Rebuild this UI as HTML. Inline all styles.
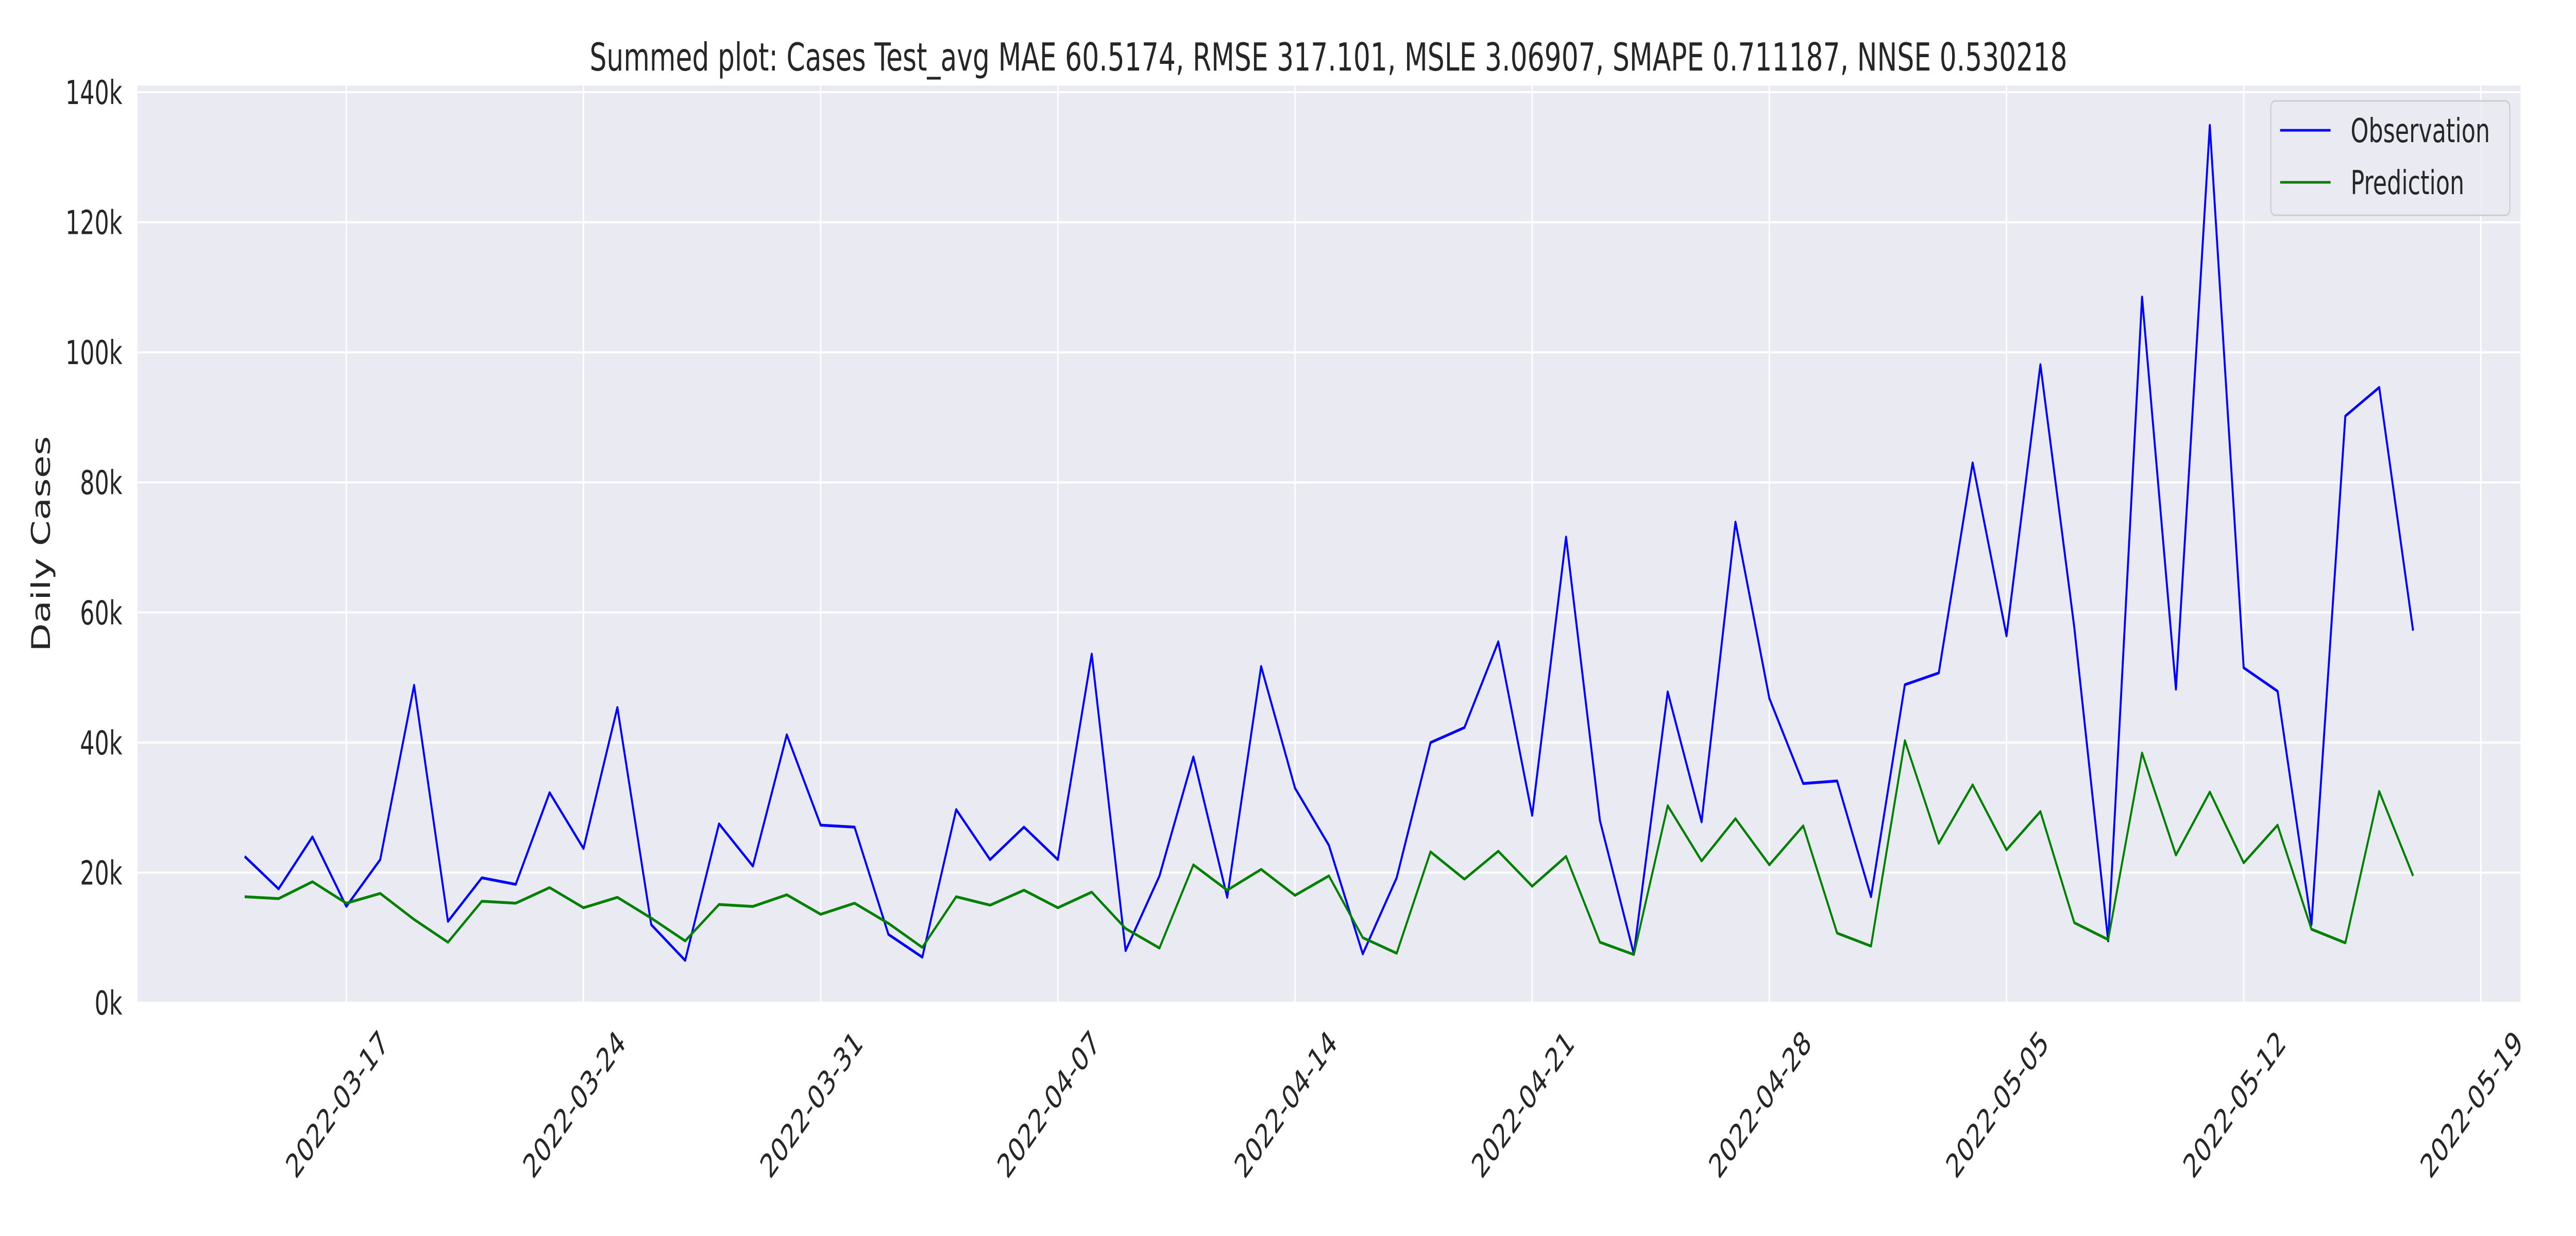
<!DOCTYPE html>
<html><head><meta charset="utf-8"><style>
html,body{margin:0;padding:0;background:#fff;width:100%;height:100%;overflow:hidden;}
svg{display:block;width:100vw;height:100vh;font-family:"DejaVu Sans","Liberation Sans",sans-serif;}
</style></head><body>
<svg id="chart" viewBox="0 0 7200 2400" preserveAspectRatio="none" xmlns="http://www.w3.org/2000/svg">
<rect x="0" y="0" width="7200" height="2400" fill="#fff"/>
<text x="3713" y="137" font-size="75" fill="#262626" text-anchor="middle" textLength="4130" lengthAdjust="spacingAndGlyphs">Summed plot: Cases Test_avg MAE 60.5174, RMSE 317.101, MSLE 3.06907, SMAPE 0.711187, NNSE 0.530218</text>
<rect x="384" y="166" width="6661" height="1781" fill="#eaeaf2"/>
<g id="grid"></g>
<g id="yticks"></g>
<g id="xticks"></g>
<text transform="translate(140,1056) rotate(-90)" font-size="72" fill="#262626" text-anchor="middle">Daily Cases</text>
<g id="series"></g>
<g>
<rect x="6347" y="196" width="668" height="222" rx="12" fill="#eaeaf2" fill-opacity="0.8" stroke="#cccccc" stroke-width="3"/>
<line x1="6373" y1="253" x2="6514" y2="253" stroke="#0000ff" stroke-width="5"/>
<text x="6570" y="276" font-size="64" fill="#262626">Observation</text>
<line x1="6373" y1="354" x2="6514" y2="354" stroke="#008000" stroke-width="5"/>
<text x="6570" y="377" font-size="64" fill="#262626">Prediction</text>
</g>
</svg>
<script>
const startDate = "2022-03-14";
const observation = [22.5,17.5,25.5,14.8,22,48.8,12.5,19.2,18.2,32.3,23.7,45.4,12,6.5,27.5,21,41.2,27.3,27,10.5,7,29.7,22,27,22,53.6,8,19.5,37.8,16.2,51.7,33,24.2,7.5,19.2,40,42.3,55.5,28.8,71.6,28,7.5,47.8,27.8,73.9,46.8,33.7,34.1,16.3,48.9,50.7,83,56.4,98.1,57.7,9.5,108.5,48.2,134.9,51.5,47.9,12,90.2,94.6,57.2];
const prediction = [16.3,16,18.6,15.3,16.8,12.8,9.3,15.6,15.3,17.7,14.6,16.2,13,9.5,15.1,14.8,16.6,13.6,15.3,12.2,8.5,16.3,15,17.3,14.6,17,11.4,8.4,21.2,17.3,20.5,16.5,19.5,10,7.6,23.2,19,23.3,17.9,22.5,9.3,7.4,30.3,21.8,28.3,21.2,27.2,10.7,8.7,40.3,24.5,33.5,23.5,29.4,12.3,9.7,38.4,22.7,32.4,21.5,27.3,11.3,9.2,32.5,19.5];
const yTicks = [0,20,40,60,80,100,120,140];
const xTickLabels = ["2022-03-17","2022-03-24","2022-03-31","2022-04-07","2022-04-14","2022-04-21","2022-04-28","2022-05-05","2022-05-12","2022-05-19"];

const NS="http://www.w3.org/2000/svg";
const L=384,R=7045,T=166,B=1947;
const day0=Date.parse("2022-03-17T00:00:00Z"), x0=968, pxPerDay=94.7;
function xDate(s){return x0+(Date.parse(s+"T00:00:00Z")-day0)/86400000*pxPerDay;}
function xIdx(i){return xDate(startDate)+i*pxPerDay;}
function y(v){return B-v/140*1768;}
function el(t,a,p){const e=document.createElementNS(NS,t);for(const k in a)e.setAttribute(k,a[k]);p.appendChild(e);return e;}
const grid=document.getElementById('grid'),yt=document.getElementById('yticks'),xt=document.getElementById('xticks'),ser=document.getElementById('series');
yTicks.forEach(v=>{
  const g=el('line',{x1:L,x2:R,y1:y(v),y2:y(v),stroke:'#fff','stroke-width':4},grid);
  
  
  const t=el('text',{x:342,y:y(v)+23,'font-size':64,fill:'#262626','text-anchor':'end'},yt);
  t.textContent=v+'k';
  
  
});
xTickLabels.forEach(s=>{
  const x=xDate(s);
  const g=el('line',{x1:x,x2:x,y1:T,y2:B,stroke:'#fff','stroke-width':4},grid);
  
  
  const t=el('text',{x:0,y:0,'font-size':64,fill:'#262626','text-anchor':'middle',transform:`translate(${x-10},${2160}) rotate(-45)`},xt);
  t.textContent=s;
  
  
});
function line(data,color,name){
  const p=el('polyline',{points:data.map((v,i)=>xIdx(i).toFixed(1)+','+y(v).toFixed(1)).join(' '),fill:'none',stroke:color,'stroke-width':5.5,'stroke-linejoin':'round'},ser);
  
  
}
line(observation,'#0000ff','observation-line');
line(prediction,'#008000','prediction-line');
</script>
</body></html>
